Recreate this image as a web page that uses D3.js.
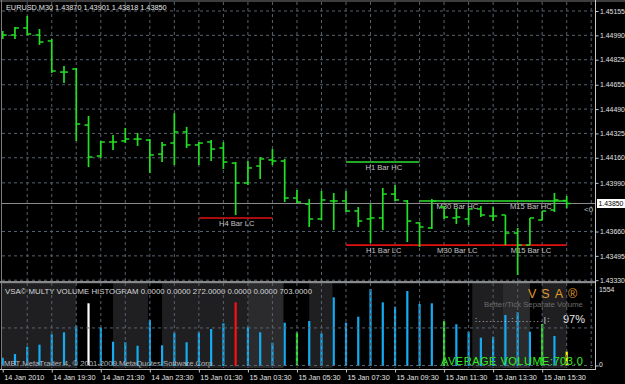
<!DOCTYPE html>
<html lang="en">
<head>
<meta charset="UTF-8">
<title>EURUSD,M30 VSA</title>
<script src="https://cdn.jsdelivr.net/npm/d3@7"></script>
<style>
  body { margin: 0; background: #000; }
  svg { display: block; font-family: "Liberation Sans", Arial, sans-serif; }
</style>
</head>
<body>
<svg id="chart" width="625" height="384"></svg>
<script>
// ---- data ----
const timeLabels = ["14 Jan 2010", "14 Jan 19:30", "14 Jan 21:30", "14 Jan 23:30",
  "15 Jan 01:30", "15 Jan 03:30", "15 Jan 05:30", "15 Jan 07:30",
  "15 Jan 09:30", "15 Jan 11:30", "15 Jan 13:30", "15 Jan 15:30"];
const priceTicks = [1.45155, 1.44990, 1.44825, 1.44655, 1.44490, 1.44325,
  1.44160, 1.43990, 1.43660, 1.43495, 1.43330];

const opens  = [1.44992,1.44992,1.45040,1.44992,1.44952,1.44741,1.44762,1.44382,1.44172,1.44267,
  1.44274,1.44287,1.44280,1.44185,1.44260,1.44335,1.44247,1.44267,1.44226,1.44124,
  1.43989,1.44104,1.44145,1.44138,1.43887,1.43846,1.43745,1.43867,1.43867,1.43799,
  1.43745,1.43752,1.43914,1.43867,1.43718,1.43684,1.43826,1.43752,1.43745,1.43813,
  1.43765,1.43772,1.43650,1.43568,1.43738,1.43806,1.43870];
const highs  = [1.45019,1.45047,1.45121,1.45033,1.44965,1.44782,1.44769,1.44443,1.44274,1.44314,
  1.44362,1.44328,1.44287,1.44267,1.44463,1.44369,1.44267,1.44280,1.44267,1.44131,
  1.44138,1.44165,1.44219,1.44152,1.43941,1.43880,1.43935,1.43921,1.43935,1.43826,
  1.43846,1.43955,1.43975,1.43874,1.43724,1.43880,1.43833,1.43819,1.43813,1.43833,
  1.43826,1.43772,1.43684,1.43752,1.43799,1.43921,1.43901];
const lows   = [1.44965,1.44965,1.44992,1.44925,1.44735,1.44667,1.44274,1.44097,1.44158,1.44213,
  1.44260,1.44240,1.44057,1.44131,1.44111,1.44226,1.44111,1.44138,1.44084,1.43772,
  1.43975,1.44016,1.44111,1.43860,1.43853,1.43691,1.43738,1.43670,1.43792,1.43691,
  1.43582,1.43670,1.43867,1.43589,1.43555,1.43677,1.43745,1.43711,1.43704,1.43758,
  1.43731,1.43568,1.43365,1.43568,1.43738,1.43792,1.43818];
const closes = [1.44992,1.45040,1.44999,1.44945,1.44748,1.44741,1.44389,1.44165,1.44267,1.44267,
  1.44287,1.44287,1.44179,1.44247,1.44335,1.44247,1.44260,1.44219,1.44131,1.43989,
  1.44091,1.44152,1.44138,1.43887,1.43860,1.43745,1.43874,1.43867,1.43799,1.43731,
  1.43752,1.43914,1.43874,1.43731,1.43691,1.43867,1.43758,1.43758,1.43813,1.43772,
  1.43765,1.43650,1.43568,1.43752,1.43799,1.43874,1.43850];
const lastPrice = 1.43850;

const volumes = [155,225,361,399,593,631,754,1174,724,455,
  444,380,861,388,623,444,631,693,799,1192,
  736,631,436,811,631,842,612,1286,811,923,
  1441,1192,1110,1404,1161,1174,842,781,642,530,
  548,955,1005,642,786,562,272];
const whiteBars = [7];
const redBars = [19];
const greenBars = [24, 36, 44];
const yellowBars = [46];
const volumeMax = 1554;
const averageVolume = 703.0;
const volumeTitle = "VSA\u00A9 MULTY VOLUME HISTOGRAM 0.0000 0.0000 272.0000 0.0000 0.0000 703.0000";
// shaded zones of the volume window, in bar units [from, to]
const shadeBands = [[-0.4, 6], [9, 11.85], [13, 20], [25, 26.9], [38.3, 40.8], [44, 46]];
const lightBands = [[20, 22.9], [40.8, 43]];

const levelNames  = ["H4 Bar LC", "H1 Bar HC", "H1 Bar LC", "M30 Bar HC", "M30 Bar LC", "M15 Bar HC", "M15 Bar LC"];
const levelPrices = [1.43752, 1.44131, 1.43568, 1.43867, 1.43568, 1.43867, 1.43568];
const levelFrom   = [16, 28, 28, 34, 34, 40, 40];
const levelTo     = [22, 34, 34, 40, 40, 46, 46];

// ---- layout ----
const svg = d3.select("#chart");
const plotL = 2, plotR = 595, mainT = 2, mainB = 281, subT = 283, subB = 368;
const axisFont = 6.9;

const x = d3.scaleLinear().domain([0, 46]).range([2.7, 566.7]);
const y = d3.scaleLinear().domain([1.43330, 1.45155]).range([280.2, 11]);
const yv = d3.scaleLinear().domain([0, volumeMax]).range([366, 283]);

svg.append("rect").attr("width", 625).attr("height", 384).attr("fill", "#000");

svg.append("clipPath").attr("id", "mainClip").append("rect")
  .attr("x", plotL).attr("y", mainT).attr("width", plotR - plotL).attr("height", mainB - mainT);
svg.append("clipPath").attr("id", "subClip").append("rect")
  .attr("x", plotL).attr("y", subT).attr("width", plotR - plotL).attr("height", subB - subT);

// shaded zones in the volume window
const sub = svg.append("g").attr("clip-path", "url(#subClip)");
sub.selectAll("rect.band").data(shadeBands).enter().append("rect")
  .attr("x", d => x(d[0])).attr("width", d => x(d[1]) - x(d[0]))
  .attr("y", subT).attr("height", subB - subT)
  .attr("fill", "#1f1f21");
sub.selectAll("rect.lband").data(lightBands).enter().append("rect")
  .attr("x", d => x(d[0])).attr("width", d => x(d[1]) - x(d[0]))
  .attr("y", subT).attr("height", subB - subT)
  .attr("fill", "#2b2b2d");

// grid
const gridColor = "#56626e";
const gridX = d3.range(2, 49, 2);
[[mainT, mainB], [subT, subB]].forEach(([t, b]) => {
  svg.append("g").selectAll("line").data(gridX).enter().append("line")
    .attr("x1", d => x(d)).attr("x2", d => x(d))
    .attr("y1", t).attr("y2", b)
    .attr("stroke", gridColor).attr("stroke-dasharray", "3,3");
});
svg.append("g").selectAll("line").data(priceTicks).enter().append("line")
  .attr("x1", plotL).attr("x2", plotR)
  .attr("y1", d => y(d)).attr("y2", d => y(d))
  .attr("stroke", gridColor).attr("stroke-dasharray", "3,3");
svg.append("g").selectAll("line").data([averageVolume, 0]).enter().append("line")
  .attr("x1", plotL).attr("x2", plotR)
  .attr("y1", d => yv(d) - 0.5).attr("y2", d => yv(d) - 0.5)
  .attr("stroke", gridColor).attr("stroke-dasharray", "3,3");

// main chart
const main = svg.append("g").attr("clip-path", "url(#mainClip)");

// bid line
main.append("line")
  .attr("x1", plotL).attr("x2", plotR)
  .attr("y1", y(lastPrice)).attr("y2", y(lastPrice))
  .attr("stroke", "#8c8c8c").attr("stroke-width", 1);

// level lines and their labels
const levels = levelNames.map((name, i) => ({
  name, price: levelPrices[i], from: levelFrom[i], to: levelTo[i],
  color: name.endsWith("HC") ? "#2ee02e" : "#e01010"
}));
main.selectAll("line.level").data(levels).enter().append("line")
  .attr("x1", d => x(d.from)).attr("x2", d => x(d.to))
  .attr("y1", d => y(d.price)).attr("y2", d => y(d.price))
  .attr("stroke", d => d.color).attr("stroke-width", 1.6);
main.selectAll("text.level").data(levels).enter().append("text")
  .attr("x", d => (x(d.from) + x(d.to)) / 2 + 1)
  .attr("y", d => y(d.price) + 8)
  .attr("text-anchor", "middle")
  .attr("fill", "#c4c4c4").attr("font-size", 7.6)
  .text(d => d.name);

// OHLC bars
const bars = d3.range(opens.length);
const barColor = "#22e022";
main.selectAll("line.hl").data(bars).enter().append("line")
  .attr("x1", i => x(i)).attr("x2", i => x(i))
  .attr("y1", i => y(highs[i])).attr("y2", i => y(lows[i]))
  .attr("stroke", barColor).attr("stroke-width", 1.7);
main.selectAll("line.op").data(bars).enter().append("line")
  .attr("x1", i => x(i) - 4).attr("x2", i => x(i))
  .attr("y1", i => y(opens[i])).attr("y2", i => y(opens[i]))
  .attr("stroke", barColor).attr("stroke-width", 1.5);
main.selectAll("line.cl").data(bars).enter().append("line")
  .attr("x1", i => x(i)).attr("x2", i => x(i) + 4)
  .attr("y1", i => y(closes[i])).attr("y2", i => y(closes[i]))
  .attr("stroke", barColor).attr("stroke-width", 1.5);

main.append("text").attr("x", 6).attr("y", 10)
  .attr("fill", "#e4e4e4").attr("font-size", 7.3)
  .text("EURUSD,M30  1.43870 1.43901 1.43818 1.43850");
main.append("text").attr("x", 584).attr("y", 212)
  .attr("fill", "#c0c0c0").attr("font-size", 8).text("<0");

// volume histogram
function volColor(i) {
  if (whiteBars.includes(i)) return "#ffffff";
  if (redBars.includes(i)) return "#ff1010";
  if (greenBars.includes(i)) return "#33e033";
  if (yellowBars.includes(i)) return "#ffff00";
  return "#16aaf0";
}
sub.selectAll("rect.vol").data(bars).enter().append("rect")
  .attr("x", i => x(i) - 1.1).attr("width", 2.2)
  .attr("y", i => yv(volumes[i])).attr("height", i => yv(0) - yv(volumes[i]))
  .attr("fill", i => volColor(i));

sub.append("text").attr("x", 5).attr("y", 294)
  .attr("fill", "#d8d8d8").attr("font-size", 7.8).text(volumeTitle);
sub.append("text").attr("x", 4).attr("y", 366)
  .attr("fill", "#b8b8b8").attr("font-size", 7.7)
  .text("MBT MetaTrader 4, \u00A9 2001-2009 MetaQuotes Software Corp.");
sub.append("text").attr("x", 528).attr("y", 298)
  .attr("fill", "#e09a2a").attr("font-size", 12.5).attr("letter-spacing", 5)
  .text("VSA\u00AE");
sub.append("text").attr("x", 484).attr("y", 307)
  .attr("fill", "#6c6c6c").attr("font-size", 7.8)
  .text("Better/Tick Separate Volume");
sub.append("text").attr("x", 475).attr("y", 322)
  .attr("fill", "#e8e8e8").attr("font-size", 8).attr("letter-spacing", 1.4)
  .text(":.........:........|:");
sub.append("text").attr("x", 563).attr("y", 323)
  .attr("fill", "#e8e8e8").attr("font-size", 11).text("97%");
sub.append("text").attr("x", 441).attr("y", 365)
  .attr("fill", "#33ee22").attr("font-size", 11).attr("letter-spacing", 0.5)
  .text("AVERAGE VOLUME:" + averageVolume.toFixed(1));

// frame lines
svg.append("line").attr("x1", 0).attr("x2", 625).attr("y1", 1).attr("y2", 1).attr("stroke", "#7a7a7a");
svg.append("line").attr("x1", 1.5).attr("x2", 1.5).attr("y1", 0).attr("y2", 369).attr("stroke", "#7a7a7a");
svg.append("rect").attr("x", 0).attr("y", 281).attr("width", 596).attr("height", 2.2).attr("fill", "#8a8a8a");
svg.append("line").attr("x1", 595.5).attr("x2", 595.5).attr("y1", 0).attr("y2", 369.5).attr("stroke", "#c8c8c8");
svg.append("line").attr("x1", 0).attr("x2", 596).attr("y1", 369.5).attr("y2", 369.5).attr("stroke", "#c8c8c8");

// price axis
const yAxis = svg.append("g").attr("transform", "translate(595.5,0)")
  .call(d3.axisRight(y).tickValues(priceTicks).tickSize(3).tickPadding(1.5)
    .tickFormat(d3.format(".5f")));
yAxis.select(".domain").remove();
yAxis.selectAll("line").attr("stroke", "#c8c8c8");
yAxis.selectAll("text").attr("fill", "#e0e0e0").attr("font-size", axisFont)
  .attr("font-family", "Liberation Sans, Arial, sans-serif");

// current price box
svg.append("rect").attr("x", 597).attr("y", y(lastPrice) - 4.5)
  .attr("width", 28).attr("height", 9).attr("fill", "#ffffff");
svg.append("text").attr("x", 598.5).attr("y", y(lastPrice) + 2.5)
  .attr("fill", "#000").attr("font-size", axisFont).text(d3.format(".5f")(lastPrice));

// volume window scale labels
svg.append("text").attr("x", 599).attr("y", 292)
  .attr("fill", "#e0e0e0").attr("font-size", axisFont).text(volumeMax);
svg.append("line").attr("x1", 595.5).attr("x2", 598.5).attr("y1", yv(0)).attr("y2", yv(0)).attr("stroke", "#c8c8c8");
svg.append("text").attr("x", 599).attr("y", 366.5)
  .attr("fill", "#e0e0e0").attr("font-size", axisFont).text("0");

// time axis
const tickIdx = d3.range(0, 45, 4);
const xAxis = svg.append("g").attr("transform", "translate(0,369.5)")
  .call(d3.axisBottom(x).tickValues(tickIdx).tickSize(3).tickPadding(2)
    .tickFormat((d, i) => timeLabels[i]));
xAxis.select(".domain").remove();
xAxis.selectAll("line").attr("stroke", "#c8c8c8");
xAxis.selectAll("text").attr("fill", "#e0e0e0").attr("font-size", 7.3)
  .attr("text-anchor", "start").attr("x", 1)
  .attr("font-family", "Liberation Sans, Arial, sans-serif");
</script>
</body>
</html>
